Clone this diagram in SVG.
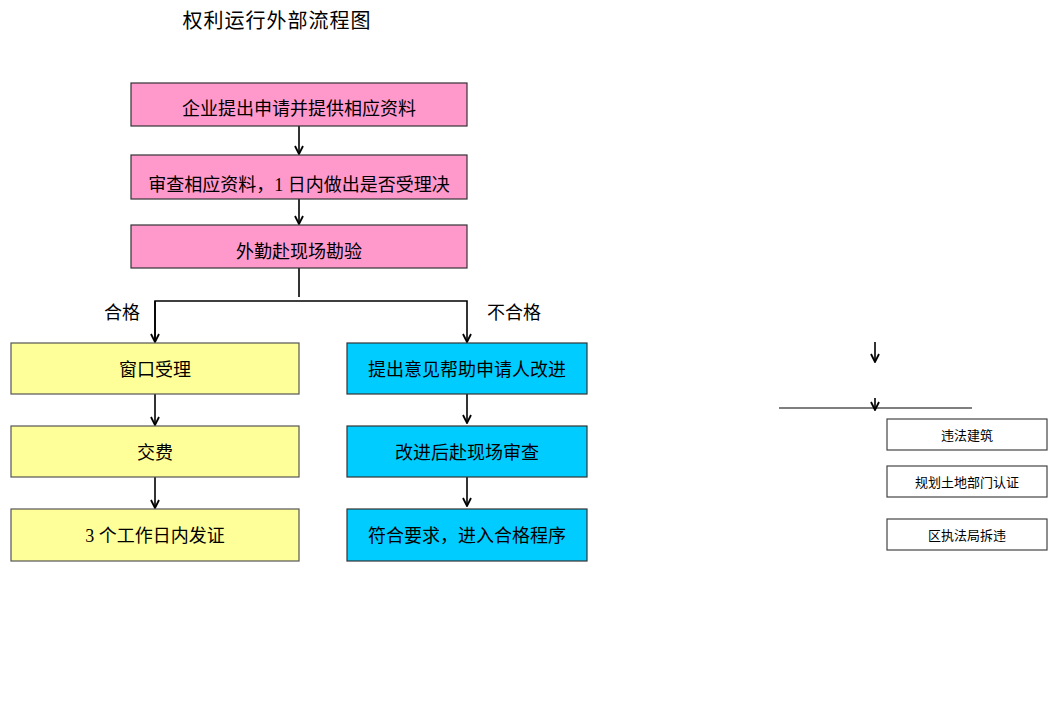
<svg xmlns="http://www.w3.org/2000/svg" width="1048" height="728" viewBox="0 0 1048 728">
<style>
text{font-family:"Liberation Serif","Noto Sans CJK SC",serif;fill:#000;text-anchor:middle;dominant-baseline:central}
.t{font-size:18px}
.s{font-size:13px}
.pink{fill:#FF99CC;stroke:#333;stroke-width:1.2}
.yel{fill:#FFFF99;stroke:#555;stroke-width:1.2}
.blu{fill:#00CCFF;stroke:#333;stroke-width:1.2}
.wht{fill:#fff;stroke:#444;stroke-width:1.2}
.c{fill:none;stroke:#000;stroke-width:1.6}
</style>
<defs>
<marker id="a" viewBox="0 0 10 10" refX="9" refY="5" markerWidth="10" markerHeight="10" orient="auto" markerUnits="userSpaceOnUse">
<path d="M1,1 L9,5 L1,9" fill="none" stroke="#000" stroke-width="1.8"/>
</marker>
</defs>
<rect width="1048" height="728" fill="#fff"/>
<text x="277" y="21" style="font-size:20px;letter-spacing:1px">权利运行外部流程图</text>

<g id="connectors">
<line class="c" x1="299" y1="126" x2="299" y2="154" marker-end="url(#a)"/>
<line class="c" x1="299" y1="199" x2="299" y2="224" marker-end="url(#a)"/>
<polyline class="c" points="299,268 299,297"/>
<polyline class="c" points="155,342 155,301 467,301 467,342" marker-end="url(#a)"/>
<line class="c" x1="155" y1="301" x2="155" y2="342" marker-end="url(#a)"/>
<line class="c" x1="155" y1="394" x2="155" y2="425" marker-end="url(#a)"/>
<line class="c" x1="155" y1="477" x2="155" y2="508" marker-end="url(#a)"/>
<line class="c" x1="467" y1="394" x2="467" y2="423" marker-end="url(#a)"/>
<line class="c" x1="467" y1="477" x2="467" y2="506" marker-end="url(#a)"/>
<line class="c" x1="875" y1="342" x2="875" y2="362" marker-end="url(#a)"/>
<line class="c" x1="875" y1="398" x2="875" y2="410" marker-end="url(#a)"/>
<line class="c" style="stroke-width:1.2" x1="779" y1="408" x2="972" y2="408"/>
</g>

<text class="t" x="122" y="313">合格</text>
<text class="t" x="514" y="313">不合格</text>

<g id="n1"><rect class="pink" x="131" y="83" width="336" height="43"/><text class="t" x="299" y="109">企业提出申请并提供相应资料</text></g>
<g id="n2"><rect class="pink" x="131" y="155" width="336" height="44"/><text class="t" x="299" y="185">审查相应资料，1 日内做出是否受理决</text></g>
<g id="n3"><rect class="pink" x="131" y="225" width="336" height="43"/><text class="t" x="299" y="252">外勤赴现场勘验</text></g>

<g id="y1"><rect class="yel" x="11" y="343" width="288" height="51"/><text class="t" x="155" y="370">窗口受理</text></g>
<g id="y2"><rect class="yel" x="11" y="426" width="288" height="51"/><text class="t" x="155" y="453">交费</text></g>
<g id="y3"><rect class="yel" x="11" y="509" width="288" height="52"/><text class="t" x="155" y="536">3 个工作日内发证</text></g>

<g id="b1"><rect class="blu" x="347" y="343" width="240" height="51"/><text class="t" x="467" y="370">提出意见帮助申请人改进</text></g>
<g id="b2"><rect class="blu" x="347" y="426" width="240" height="51"/><text class="t" x="467" y="453">改进后赴现场审查</text></g>
<g id="b3"><rect class="blu" x="347" y="509" width="240" height="52"/><text class="t" x="467" y="536">符合要求，进入合格程序</text></g>

<g id="w1"><rect class="wht" x="887" y="419" width="160" height="31"/><text class="s" x="967" y="435">违法建筑</text></g>
<g id="w2"><rect class="wht" x="887" y="466" width="160" height="31"/><text class="s" x="967" y="482">规划土地部门认证</text></g>
<g id="w3"><rect class="wht" x="887" y="519" width="160" height="31"/><text class="s" x="967" y="535">区执法局拆违</text></g>
</svg>
